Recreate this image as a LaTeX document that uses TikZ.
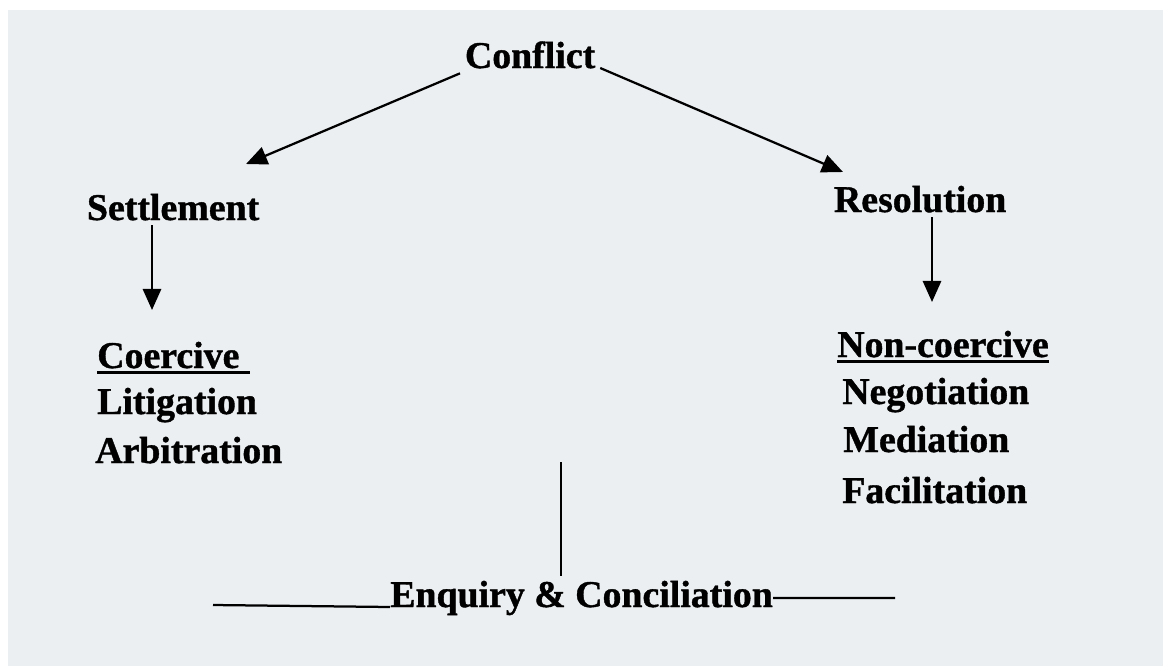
\documentclass[tikz,border=0pt]{standalone}
\usepackage{fontspec}
\setmainfont[BoldFeatures={FakeBold=1}]{Liberation Serif}
\usetikzlibrary{arrows.meta}
\definecolor{paper}{RGB}{236,239,242}
\tikzset{
	lbl/.style={font=\bfseries\fontsize{26.9}{32}\selectfont, anchor=base west},
	itm/.style={lbl, inner xsep=0pt},
	arr/.style={line width=1.6pt, -{Triangle[length=15pt,width=13pt]}},
	ln/.style={line width=1.6pt},
	uline/.style={line width=2pt}
}

\begin{document}
\begin{tikzpicture}[x=0.025cm,y=-0.025cm]
	\useasboundingbox (0,0) rectangle (1163,665);
	\fill[white] (0,0) rectangle (1163,665);
	\fill[paper] (8,10) rectangle (1175,675);
	\node[lbl] (Conflict) at (460,68) {Conflict};
	\node[lbl] (Settlement) at (82,220) {Settlement};
	\node[lbl] (Resolution) at (829,212) {Resolution};
	\node[itm] (Coercive) at (97,368) {Coercive};
	\node[itm] (Litigation) at (97,414) {Litigation};
	\node[itm] (Arbitration) at (95,463) {Arbitration};
	\node[itm] (NonCoercive) at (837,357) {Non-coercive};
	\node[itm] (Negotiation) at (842,404) {Negotiation};
	\node[itm] (Mediation) at (843,452) {Mediation};
	\node[itm] (Facilitation) at (842,503) {Facilitation};
	\node[itm] (Enquiry) at (390,607) {Enquiry \& Conciliation};
	\coordinate (settletip) at (246,164);
	\coordinate (resoltip) at (843,172);
	\coordinate (coertip) at (152,310);
	\coordinate (noncoertip) at (932,302);
	\coordinate (enqtop) at (561,462);
	\coordinate (enqleft) at (213,605);
	\coordinate (enqright) at (895,598);
	\path[arr]
		(Conflict.south west) edge (settletip)
		(Conflict.base east) edge (resoltip)
		(Settlement.south -| coertip) edge (coertip)
		(Resolution.south -| noncoertip) edge (noncoertip);
	\path[ln]
		(Enquiry.north -| enqtop) edge (enqtop)
		(enqleft) edge (Enquiry.base west)
		(Enquiry.east) edge (enqright);
	\draw[uline] ([yshift=-3pt]Coercive.base west) -- ([xshift=7pt,yshift=-3pt]Coercive.base east);
	\draw[uline] ([yshift=-3pt]NonCoercive.base west) -- ([yshift=-3pt]NonCoercive.base east);
\end{tikzpicture}
\end{document}
